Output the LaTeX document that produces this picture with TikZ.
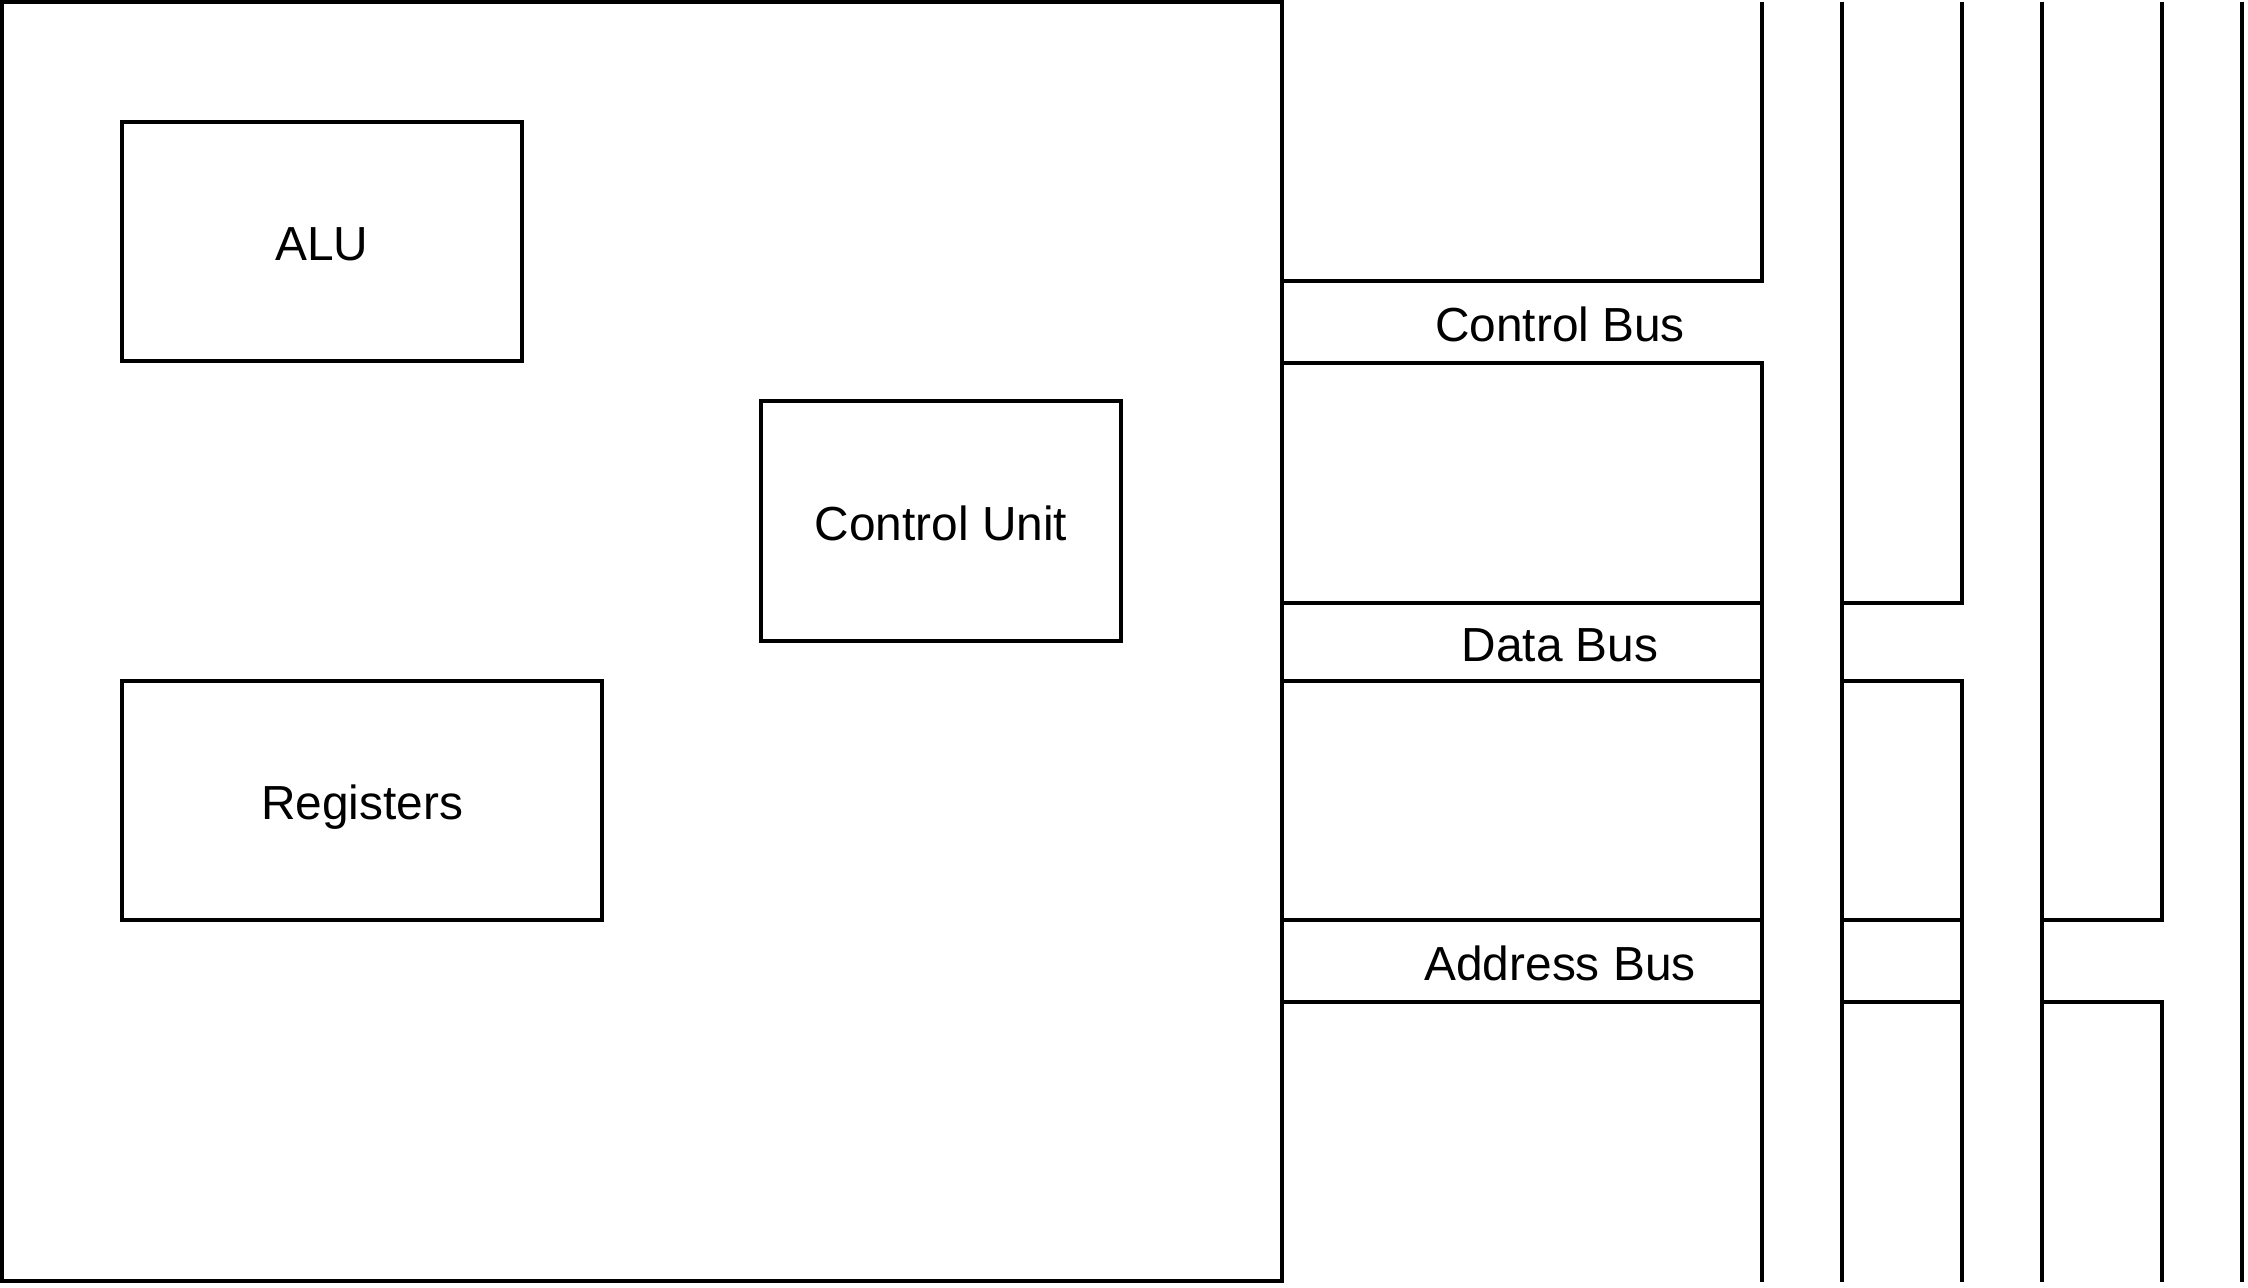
\documentclass[tikz,border=0pt]{standalone}
\usepackage{fontspec}
\setmainfont{Liberation Sans}
\usetikzlibrary{positioning}

\begin{document}
\begin{tikzpicture}[x=0.01cm, y=-0.01cm, line width=1.1pt,
  unit/.style={draw, rectangle, inner sep=0pt, text height=10.9pt, text depth=0pt,
    font=\fontsize{13.6}{16}\selectfont},
  buslabel/.style={inner sep=0pt, text height=10.9pt, text depth=0pt,
    font=\fontsize{13.6}{16}\selectfont}]
\useasboundingbox (0,0) rectangle (2248,1288);

% CPU outline
\draw (2,2) rectangle (1282,1281);

% Units inside the CPU
\node[unit, minimum width=4cm, minimum height=2.39cm] (alu) at (322,241.5) {ALU};
\node[unit, minimum width=3.6cm, minimum height=2.4cm] (cu) at (941,521) {Control Unit};
\node[unit, minimum width=4.8cm, minimum height=2.39cm] (regs) at (362,800.5) {Registers};

% Control bus
\draw (1282,281) -- (1762,281) -- (1762,2);
\draw (1282,363) -- (1762,363) -- (1762,1282);
\node[buslabel] (cbus) at (1560,322) {Control Bus};

% Data bus
\draw (1282,603) -- (1762,603);
\draw (1282,681) -- (1762,681);
\draw (1842,2) -- (1842,1282);
\draw (1842,603) -- (1962,603) -- (1962,2);
\draw (1842,681) -- (1962,681) -- (1962,1282);
\node[buslabel] (dbus) at (1560,642) {Data Bus};

% Address bus
\draw (1282,920) -- (1762,920);
\draw (1282,1002) -- (1762,1002);
\draw (1842,920) -- (1962,920);
\draw (1842,1002) -- (1962,1002);
\draw (2042,2) -- (2042,1282);
\draw (2042,920) -- (2162,920) -- (2162,2);
\draw (2042,1002) -- (2162,1002) -- (2162,1282);
\draw (2242,2) -- (2242,1282);
\node[buslabel] (abus) at (1560,961) {Address Bus};
\end{tikzpicture}
\end{document}
